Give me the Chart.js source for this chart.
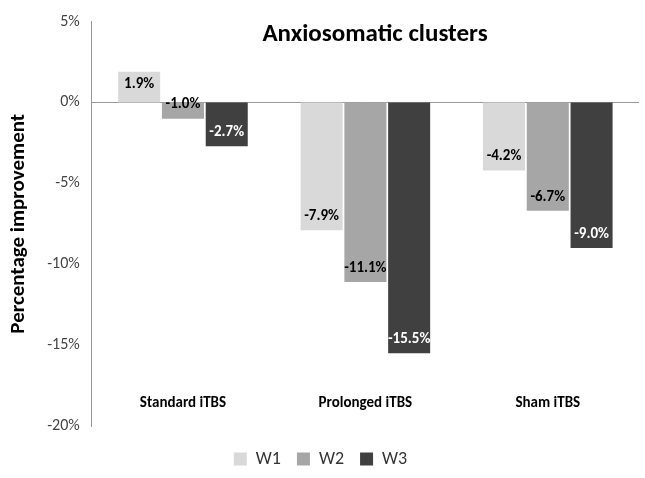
<!DOCTYPE html><html><head><script src="https://cdn.jsdelivr.net/npm/chart.js@4"></script>
<style>body{margin:0;background:#fff}#w{width:645px;height:478px}</style></head><body><div id="w"><canvas id="c"></canvas></div>
<script>
const categories=["Standard iTBS","Prolonged iTBS","Sham iTBS"];
const w1=[1.9,-7.9,-4.2];
const w2=[-1.0,-11.1,-6.7];
const w3=[-2.7,-15.5,-9.0];
const seriesNames=["W1","W2","W3"];
const colors=["#d9d9d9","#a6a6a6","#404040"];
const labelColors=["#000","#000","#fff"];
const F="Calibri, Carlito, 'Liberation Sans', Arial, sans-serif";
const plug={id:'p',afterDatasetsDraw(ch){const c=ch.ctx;c.save();
 c.font="bold 15px "+F;c.textAlign='center';
 ch.data.datasets.forEach((ds,i)=>{ch.getDatasetMeta(i).data.forEach((b,j)=>{const v=ds.data[j];
  c.fillStyle=labelColors[i];c.textBaseline='middle';
  const y=v>=0?b.y+13:b.y-14; c.fillText(v.toFixed(1)+'%',b.x,y);});});
 const xs=ch.scales.x,ys=ch.scales.y;
 c.fillStyle='#000';c.font="bold 15px "+F;
 categories.forEach((t,j)=>c.fillText(t,xs.getPixelForValue(j),ys.getPixelForValue(-18.6)));
 c.font="bold 25px "+F;c.fillText("Anxiosomatic clusters",375,35);
 c.restore();}};
new Chart(document.getElementById('c'),{type:'bar',
data:{labels:categories,datasets:[w1,w2,w3].map((d,i)=>({label:seriesNames[i],data:d,backgroundColor:colors[i]}))},
options:{responsive:true,maintainAspectRatio:false,animation:false,
 layout:{padding:{top:0,right:6,left:2,bottom:0}},
 datasets:{bar:{categoryPercentage:0.72,barPercentage:0.96}},
 plugins:{legend:{position:'bottom',labels:{font:{family:F,size:18},color:'#333',boxWidth:13,boxHeight:13,padding:16}},tooltip:{enabled:false}},
 scales:{x:{grid:{display:false},border:{display:false},ticks:{display:false}},
  y:{min:-20,max:5,ticks:{stepSize:5,callback:v=>v+'%',font:{family:F,size:16},color:'#444',padding:12},
   grid:{display:false,drawTicks:false},border:{color:'#999'},
   title:{display:true,text:'Percentage improvement',font:{family:F,size:21,weight:'bold'},color:'#000'}}}},
plugins:[plug,{id:'zero',beforeDatasetsDraw(ch){const c=ch.ctx,y=ch.scales.y.getPixelForValue(0);c.save();c.strokeStyle='#999';c.beginPath();c.moveTo(ch.chartArea.left,y);c.lineTo(ch.chartArea.right,y);c.stroke();c.restore();}}]});
</script></body></html>
